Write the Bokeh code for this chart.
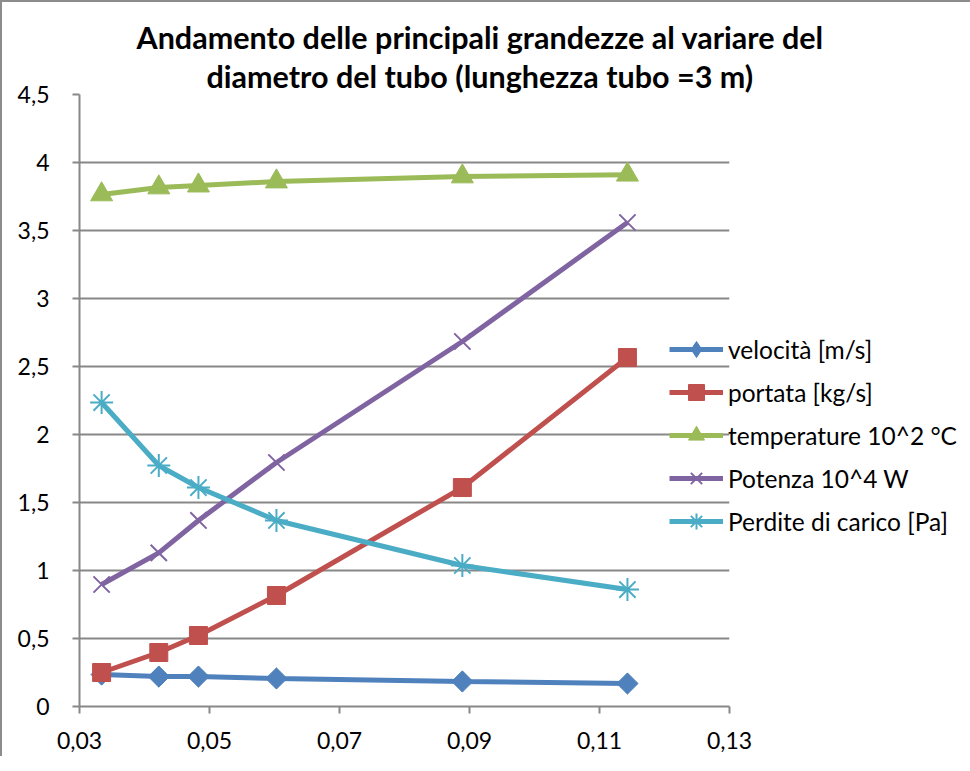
from bokeh.plotting import figure
from bokeh.models import Range1d, FixedTicker, Legend, LegendItem, Title
from bokeh.embed import file_html
from bokeh.resources import INLINE
import math

# ---- data ----
diametro = [0.0334, 0.0422, 0.0483, 0.0603, 0.0889, 0.1143]
velocita = [0.235, 0.220, 0.220, 0.206, 0.184, 0.169]
portata = [0.25, 0.397, 0.522, 0.816, 1.61, 2.566]
temperature = [3.765, 3.816, 3.83, 3.86, 3.897, 3.91]
potenza = [0.897, 1.13, 1.368, 1.794, 2.684, 3.559]
perdite = [2.235, 1.772, 1.61, 1.368, 1.037, 0.86]

series_names = ["velocità [m/s]", "portata [kg/s]", "temperature 10^2 °C",
                "Potenza 10^4 W", "Perdite di carico [Pa]"]

y_ticks = [0, 0.5, 1, 1.5, 2, 2.5, 3, 3.5, 4, 4.5]
y_tick_labels = ["0", "0,5", "1", "1,5", "2", "2,5", "3", "3,5", "4", "4,5"]
x_ticks = [0.03, 0.05, 0.07, 0.09, 0.11, 0.13]
x_tick_labels = ["0,03", "0,05", "0,07", "0,09", "0,11", "0,13"]

title_1 = "Andamento delle  principali grandezze al variare del"
title_2 = "diametro del tubo (lunghezza tubo =3 m)"

FONT = "Lato"
GRID = "#888888"

p = figure(frame_width=650, frame_height=612, output_backend="svg", toolbar_location=None,
           x_range=Range1d(0.03, 0.13), y_range=Range1d(0, 4.5),
           min_border_left=77, min_border_right=0, min_border_top=92,
           min_border_bottom=50)
p.styles = {"border-top": "2px solid #8c8c8c", "border-left": "2px solid #8c8c8c"}
p.outline_line_color = None
p.background_fill_color = "white"
p.border_fill_color = "white"

# titles (line 2 first: closest to the frame)
p.add_layout(Title(text=title_2, text_font=FONT, text_font_size="30.5px",
                   text_font_style="bold", align="left", offset=127,
                   standoff=1, text_color="black"), "above")
p.add_layout(Title(text=title_1, text_font=FONT, text_font_size="30.5px",
                   text_font_style="bold", align="left", offset=57,
                   standoff=1, text_color="black"), "above")

# axes
p.xaxis.ticker = FixedTicker(ticks=x_ticks)
p.yaxis.ticker = FixedTicker(ticks=y_ticks)
p.xaxis.major_label_overrides = {t: l for t, l in zip(x_ticks, x_tick_labels)}
p.yaxis.major_label_overrides = {t: l for t, l in zip(y_ticks, y_tick_labels)}
for ax in (p.xaxis, p.yaxis):
    ax.axis_line_color = GRID
    ax.axis_line_width = 2
    ax.major_tick_line_color = GRID
    ax.major_tick_line_width = 2
    ax.major_tick_out = 7
    ax.major_tick_in = 0
    ax.minor_tick_line_color = None
    ax.major_label_text_font = FONT
    ax.major_label_text_font_size = "23px"
    ax.major_label_text_color = "black"
p.yaxis.major_label_standoff = 23
p.xaxis.major_label_standoff = 18

p.xgrid.grid_line_color = None
p.ygrid.grid_line_color = GRID
p.ygrid.grid_line_width = 2

colors = ["#4F81BD", "#C0504D", "#9BBB59", "#8064A2", "#4BACC6"]
values = [velocita, portata, temperature, potenza, perdite]
markers = ["diamond", "square", "triangle", "x", "asterisk"]
sizes = [20, 18, 22, 23, 23]

items = []
for name, vals, col, mk, sz in zip(series_names, values, colors, markers, sizes):
    l = p.line(diametro, vals, line_color=col, line_width=5)
    if mk in ("x", "asterisk"):
        s = p.scatter(diametro, vals, marker=mk, size=sz, line_color=col, line_width=2)
    else:
        s = p.scatter(diametro, vals, marker=mk, size=sz, fill_color=col, line_color=col)
    if mk == "diamond":
        # Excel-style diamond: a square turned by 45 degrees drawn over it
        p.scatter(diametro, vals, marker="square", size=15, angle=math.pi / 4,
                  fill_color=col, line_color=col)
    items.append(LegendItem(label=name, renderers=[l, s]))

legend = Legend(items=items, location=(-60, 165), glyph_width=54, glyph_height=40,
                label_height=40, spacing=3, label_standoff=5, padding=0, margin=0,
                border_line_color=None, background_fill_alpha=0,
                label_text_font=FONT, label_text_font_size="24.5px",
                label_text_color="black")
p.add_layout(legend, "right")

open("out.html", "w").write(file_html(p, INLINE))
